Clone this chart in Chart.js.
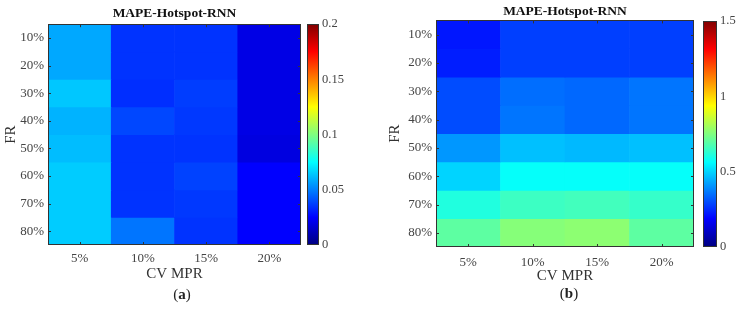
<!DOCTYPE html>
<html>
<head>
<meta charset="utf-8">
<script src="https://cdn.jsdelivr.net/npm/chart.js@4.4.1/dist/chart.umd.min.js"></script>
<style>
    html, body { margin: 0; padding: 0; background: #fff; }
    body { width: 738px; height: 309px; position: relative; overflow: hidden; }
    canvas { position: absolute; }
    .tag { position: absolute; font-family: 'Liberation Serif', serif; font-size: 15px; color: #222; transform: translate(-50%, -50%); }
</style>
</head>
<body>
<canvas id="heatA" style="left:0px; top:0px;" width="303" height="290"></canvas>
<canvas id="barA" style="left:300px; top:0px;" width="60" height="309"></canvas>
<canvas id="heatB" style="left:380px; top:0px;" width="316" height="295"></canvas>
<canvas id="barB" style="left:696px; top:0px;" width="42" height="309"></canvas>
<div class="tag" style="left:182px; top:294px;">(<b>a</b>)</div>
<div class="tag" style="left:569px; top:293px;">(<b>b</b>)</div>

<script>
const CV_MPR = ['5%', '10%', '15%', '20%'];
const FR = ['10%', '20%', '30%', '40%', '50%', '60%', '70%', '80%'];

// rows = FR, cols = CV MPR
const MAPE_A = [
    [0.058, 0.035, 0.035, 0.020],
    [0.058, 0.035, 0.035, 0.020],
    [0.064, 0.034, 0.037, 0.020],
    [0.060, 0.039, 0.036, 0.020],
    [0.062, 0.035, 0.035, 0.019],
    [0.065, 0.035, 0.038, 0.025],
    [0.065, 0.035, 0.036, 0.025],
    [0.065, 0.048, 0.035, 0.025]
];
const MAPE_B = [
    [0.22, 0.28, 0.28, 0.28],
    [0.23, 0.28, 0.28, 0.28],
    [0.30, 0.35, 0.34, 0.36],
    [0.30, 0.36, 0.34, 0.36],
    [0.41, 0.47, 0.46, 0.47],
    [0.50, 0.57, 0.57, 0.57],
    [0.61, 0.65, 0.66, 0.64],
    [0.70, 0.76, 0.77, 0.70]
];
const CBAR_A_MAX = 0.2;
const CBAR_B_MAX = 1.5;

const FONT = "'Liberation Serif', 'Times New Roman', serif";
const TICK_COLOR = '#444';

function jet(t) {
    t = Math.max(0, Math.min(1, t));
    const c = x => Math.round(255 * Math.max(0, Math.min(1, x)));
    const r = c(1.5 - Math.abs(4 * t - 3));
    const g = c(1.5 - Math.abs(4 * t - 2));
    const b = c(1.5 - Math.abs(4 * t - 1));
    return `rgb(${r},${g},${b})`;
}

// box + small inward ticks like matlab axes
const framePlugin = {
    id: 'frame',
    afterDraw(chart, args, opts) {
        const { ctx, chartArea: a, scales } = chart;
        ctx.save();
        ctx.strokeStyle = '#333';
        ctx.lineWidth = 1;
        if (opts.ticks) {
            ctx.beginPath();
            scales.x.ticks.forEach((t, i) => {
                const x = Math.round(scales.x.getPixelForTick(i)) + 0.5;
                ctx.moveTo(x, a.top); ctx.lineTo(x, a.top + 3);
                ctx.moveTo(x, a.bottom); ctx.lineTo(x, a.bottom - 3);
            });
            scales.y.ticks.forEach((t, i) => {
                const y = Math.round(scales.y.getPixelForTick(i)) + 0.5;
                ctx.moveTo(a.left, y); ctx.lineTo(a.left + 3, y);
                ctx.moveTo(a.right, y); ctx.lineTo(a.right - 3, y);
            });
            ctx.stroke();
        }
        ctx.strokeRect(Math.round(a.left) + 0.5, Math.round(a.top) + 0.5,
            Math.round(a.right - a.left) - 1, Math.round(a.bottom - a.top) - 1);
        ctx.restore();
    }
};

function makeHeatmap(id, values, max, o) {
    const datasets = FR.map((fr, i) => ({
        label: fr,
        data: CV_MPR.map(() => [i + 0.5, i + 1.5]),
        backgroundColor: values[i].map(v => jet(v / max)),
        borderWidth: 0
    }));
    return new Chart(document.getElementById(id), {
        type: 'bar',
        data: { labels: CV_MPR, datasets: datasets },
        plugins: [framePlugin],
        options: {
            responsive: false,
            animation: false,
            grouped: false,
            barPercentage: 1,
            categoryPercentage: 1,
            layout: { padding: o.pad },
            plugins: {
                legend: { display: false },
                tooltip: { enabled: false },
                frame: { ticks: true },
                title: {
                    display: true,
                    text: 'MAPE-Hotspot-RNN',
                    fullSize: false,
                    color: '#111',
                    font: { family: FONT, size: 13.5, weight: 'bold' },
                    padding: o.titlePad
                }
            },
            scales: {
                x: {
                    afterFit: s => { s.height = o.xHeight; },
                    grid: { display: false, drawTicks: false },
                    border: { display: false },
                    ticks: { color: TICK_COLOR, padding: o.tickPad, font: { family: FONT, size: 13 } },
                    title: {
                        display: true,
                        text: 'CV MPR',
                        color: '#333',
                        padding: 0,
                        font: { family: FONT, size: 15 }
                    }
                },
                y: {
                    type: 'linear',
                    min: 0.5,
                    max: FR.length + 0.5,
                    reverse: true,
                    afterFit: s => { s.width = o.yWidth; },
                    afterBuildTicks: axis => {
                        axis.ticks = FR.map((_, i) => ({ value: i + 1 }));
                    },
                    grid: { display: false, drawTicks: false },
                    border: { display: false },
                    ticks: {
                        color: TICK_COLOR,
                        padding: 4,
                        font: { family: FONT, size: 13 },
                        callback: v => FR[v - 1]
                    },
                    title: {
                        display: true,
                        text: 'FR',
                        color: '#333',
                        padding: { top: o.frPad, bottom: 0 },
                        font: { family: FONT, size: 15 }
                    }
                }
            }
        }
    });
}

function makeColorbar(id, max, step, pad, axisWidth) {
    return new Chart(document.getElementById(id), {
        type: 'bar',
        data: {
            labels: [''],
            datasets: [{
                data: [[0, max]],
                borderWidth: 0,
                backgroundColor: ctx => {
                    const area = ctx.chart.chartArea;
                    if (!area) return 'transparent';
                    const g = ctx.chart.ctx.createLinearGradient(0, area.bottom, 0, area.top);
                    for (let s = 0; s <= 64; s++) g.addColorStop(s / 64, jet(s / 64));
                    return g;
                }
            }]
        },
        plugins: [framePlugin],
        options: {
            responsive: false,
            animation: false,
            barPercentage: 1,
            categoryPercentage: 1,
            layout: { padding: pad },
            plugins: { legend: { display: false }, tooltip: { enabled: false }, frame: { ticks: false } },
            scales: {
                x: { display: false },
                y: {
                    position: 'right',
                    min: 0,
                    max: max,
                    afterFit: scale => { scale.width = axisWidth; },
                    grid: { display: false, drawTicks: false },
                    border: { display: false },
                    ticks: {
                        stepSize: step,
                        color: TICK_COLOR,
                        padding: 3,
                        font: { family: FONT, size: 12.5 },
                        callback: v => String(+v.toFixed(2))
                    }
                }
            }
        }
    });
}

makeHeatmap('heatA', MAPE_A, CBAR_A_MAX, {
    pad: { left: 1, right: 2, top: 0, bottom: 7 },
    titlePad: { top: 5, bottom: 3 },
    tickPad: 6, xHeight: 38, yWidth: 47, frPad: 1
});
makeColorbar('barA', CBAR_A_MAX, 0.05, { left: 7, right: 0, top: 24, bottom: 64 }, 41);
makeHeatmap('heatB', MAPE_B, CBAR_B_MAX, {
    pad: { left: 0, right: 2, top: 0, bottom: 10 },
    titlePad: { top: 3, bottom: 1.2 },
    tickPad: 8, xHeight: 38, yWidth: 56, frPad: 6
});
makeColorbar('barB', CBAR_B_MAX, 0.5, { left: 7, right: 0, top: 21, bottom: 62 }, 21);
</script>
</body>
</html>
